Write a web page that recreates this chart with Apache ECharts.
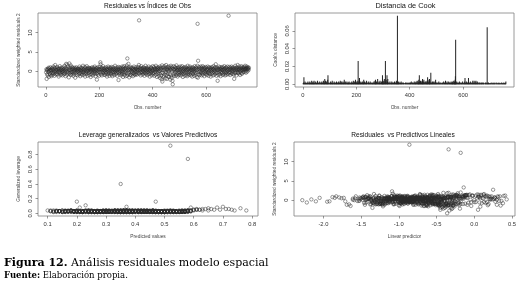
<!DOCTYPE html>
<html>
<head>
<meta charset="utf-8">
<script src="https://cdn.jsdelivr.net/npm/echarts@6/dist/echarts.min.js"></script>
<style>
  html, body { margin: 0; padding: 0; background: #fff; }
  #chart { width: 519px; height: 289px; }
</style>
</head>
<body>
<div id="chart"></div>
<script>
// standardized weighted residuals, one per observation (obs 1..760)
const residuals = [
  -0.3,0.5,-2.0,0.2,-0.8,0.4,-1.1,0.6,-0.2,0.9,-1.5,0.1,0.7,-0.6,0.3,-0.9,1.0,-0.1,0.4,-1.3,
  0.2,-0.5,0.8,-1.0,0.3,0.6,-0.4,1.2,-0.7,0.0,0.5,-1.2,0.9,-0.3,1.6,0.2,-0.8,0.4,-0.1,0.7,
  -0.6,1.1,0.3,-0.9,0.5,-0.2,0.8,-1.4,0.1,0.6,-0.5,1.3,-0.3,0.2,-1.0,0.7,0.4,-0.7,0.9,-0.2,
  0.3,-1.1,0.6,0.1,-0.4,1.0,-0.8,0.5,-0.1,1.4,-0.6,0.2,0.8,-1.3,0.4,1.9,-0.2,0.6,-0.9,1.7,
  0.1,-0.5,1.2,-0.3,0.7,-1.6,0.4,2.0,-0.7,0.3,0.9,-0.4,1.5,-1.0,0.2,0.6,-0.2,1.1,-0.8,0.5,
  -0.3,0.8,-1.2,0.4,0.0,-0.6,0.9,-0.2,0.5,-1.7,0.3,0.7,-0.4,1.0,-0.9,0.2,0.6,-0.1,-1.1,0.4,
  0.7,-0.3,0.1,-0.8,0.5,1.2,-0.5,0.3,-1.3,0.8,-0.1,0.4,-0.7,0.9,0.2,-1.0,0.6,-0.4,1.4,-0.2,
  0.3,-0.9,0.6,0.0,-0.5,1.1,-1.4,0.4,0.8,-0.3,0.2,-0.7,1.3,-0.1,0.5,-1.2,0.7,0.1,-0.6,0.9,
  -0.4,0.6,-1.0,0.3,0.8,-0.2,0.5,-1.5,0.1,0.7,-0.8,0.4,1.0,-0.3,0.2,-1.1,0.6,-0.5,0.9,0.0,
  0.4,-0.7,1.2,-0.2,0.5,-1.3,0.3,0.8,-0.6,0.1,-2.2,0.7,-0.4,1.0,-0.9,0.2,0.6,-0.1,-1.2,0.5,
  1.1,-0.3,0.4,2.3,1.8,-0.8,0.6,-0.2,0.9,-1.1,0.3,0.7,-0.5,1.3,-0.1,0.5,-0.9,0.2,0.8,-0.4,
  0.1,-1.0,0.6,0.3,-0.6,1.0,-0.3,0.5,-1.4,0.7,0.2,-0.8,1.2,-0.2,0.4,-0.5,0.9,-1.2,0.0,0.6,
  -0.7,0.3,0.8,-0.4,1.1,-0.9,0.5,0.1,-1.3,0.6,-0.2,1.0,-0.6,0.4,0.2,-1.0,0.7,-0.3,1.4,-0.1,
  0.5,-0.8,0.3,0.9,-0.5,0.1,-1.2,0.6,-0.2,0.4,1.1,-2.3,0.7,-0.4,0.2,-0.9,1.0,-0.1,0.5,-0.6,
  0.8,-1.1,0.4,0.0,-0.7,1.2,-0.3,0.6,-1.5,0.9,0.2,-0.4,1.3,-0.9,0.5,-0.2,0.7,-1.3,0.1,1.0,
  -0.5,0.6,1.5,-1.2,3.3,0.3,-0.8,0.9,1.9,-0.4,0.5,-1.6,0.2,0.7,-0.9,1.1,-0.3,0.4,-1.1,0.8,
  0.0,-0.6,0.9,-0.2,0.5,-1.3,0.7,0.3,-0.5,1.2,-0.8,0.4,0.1,-1.0,0.6,-0.3,1.0,-0.7,0.5,0.2,
  -0.9,0.7,-0.1,0.4,1.1,-0.5,0.3,1.6,13.2,-0.7,0.5,0.9,-0.3,0.2,-1.1,0.6,1.3,-0.4,0.8,-0.2,
  0.4,-0.9,0.7,0.1,-0.6,1.0,-0.2,0.5,-1.2,0.8,0.3,-0.5,1.4,-0.1,0.6,-0.8,0.2,0.9,-0.4,0.5,
  -1.0,0.3,0.7,-0.3,1.2,-0.7,0.4,0.0,-1.4,0.6,0.2,-0.6,1.0,-0.2,0.8,-1.1,0.5,0.1,-0.5,1.3,
  0.2,-0.8,0.6,-0.4,1.1,-1.2,0.3,0.7,-0.1,0.5,-0.9,1.4,-0.3,0.4,0.9,-1.5,0.2,0.6,-0.6,1.0,
  -0.2,0.5,-1.3,0.8,0.1,-0.7,1.2,-1.8,0.4,0.6,-1.1,0.9,-0.5,-2.1,1.5,-2.7,0.3,-0.4,1.0,-1.6,
  0.7,-1.2,0.2,1.3,-0.8,0.5,-1.9,0.9,-0.3,1.6,-1.0,0.4,-2.0,0.6,1.1,-0.6,0.2,-1.4,0.8,-0.1,
  1.2,-1.5,0.4,-0.8,0.9,-2.2,0.3,1.4,-1.1,0.6,-1.7,0.1,1.0,-2.5,-3.4,0.5,-0.9,1.3,-1.3,0.2,
  0.6,-0.7,1.1,-0.3,0.4,-1.2,0.8,-0.1,1.5,-0.9,0.3,0.7,-1.4,0.2,1.0,-0.5,0.5,-1.0,0.9,-0.2,
  0.3,-0.8,1.2,-0.4,0.6,-1.1,0.1,0.9,-0.6,1.3,-0.2,0.4,-1.5,0.7,0.0,-0.7,1.0,-0.3,0.5,-1.2,
  0.8,-0.4,0.2,1.1,-0.9,0.5,-0.1,0.7,-1.3,0.3,1.4,-0.6,0.4,-1.0,0.9,-0.2,0.6,-0.8,1.2,0.1,
  -0.5,0.7,-1.1,0.3,0.9,-0.3,0.5,-1.4,0.2,1.0,-0.7,0.4,0.8,-0.2,-1.2,0.6,1.3,-0.5,0.1,-0.9,
  0.5,1.0,-0.4,0.7,-1.5,0.3,1.4,12.3,-1.7,2.7,0.6,-0.8,1.1,-0.2,0.4,-1.0,0.8,0.0,-0.6,1.2,
  -0.3,0.6,-1.1,0.9,0.2,-0.5,1.3,-0.9,0.4,0.7,-0.1,1.0,-1.3,0.5,-0.4,0.8,0.1,-0.7,1.1,-0.2,
  0.4,-1.0,0.7,0.2,-0.6,1.2,-0.3,0.5,-1.2,0.9,0.0,-0.5,1.0,-0.8,0.3,0.6,-1.4,0.8,-0.1,0.4,
  -0.7,1.1,0.2,-0.4,0.7,-1.1,0.5,1.3,-0.2,0.3,-0.9,0.8,0.1,-0.6,1.0,1.8,-0.3,0.6,-1.2,0.4,
  0.9,-0.5,-2.5,0.2,0.7,-1.0,0.4,1.2,-0.3,0.6,-0.8,0.1,1.0,-1.3,0.5,-0.2,0.8,-0.6,0.3,1.1,
  -0.4,0.6,-1.0,0.2,0.9,-0.7,0.4,1.3,-0.2,0.5,-1.1,0.8,0.0,-0.5,1.0,-0.9,0.3,0.7,-0.3,1.2,
  0.1,-0.8,0.6,14.4,0.4,-0.5,1.1,-0.2,0.7,-1.0,0.3,0.9,-0.4,0.5,1.2,-0.7,0.2,0.8,-0.1,0.6,
  -0.6,1.0,0.3,-0.9,-2.0,0.5,0.8,-0.3,1.4,-0.5,0.2,0.7,-1.1,0.4,1.0,-0.2,0.6,1.6,-0.4,0.3,
  0.8,-0.6,0.5,1.2,-0.2,0.4,-1.0,0.7,0.1,0.9,-0.5,1.3,0.3,-0.7,0.6,1.0,0.2,-0.3,0.8,0.5,
  0.3,1.1,-0.2,0.7,0.5,1.4,0.0,0.6,-0.4,0.9,0.4,1.2,0.7,-0.1,0.8,0.5,1.0,0.6,0.3,0.9
];

// linear predictor, same observations
const linearPredictor = [
  -1.12,-0.58,-1.35,-0.87,-0.42,-1.61,-0.95,-0.71,-1.24,-0.33,-0.66,-1.48,-0.89,-0.27,-1.05,-0.52,-1.83,-0.78,-1.17,-0.46,
  -0.91,-1.29,-0.62,-0.15,-1.41,-0.84,-0.49,-1.02,-0.73,-2.28,-0.38,-1.19,-0.96,-0.57,-1.33,-0.68,-0.21,-1.09,-0.81,-1.52,
  -0.44,-1.26,-0.75,-1.07,-0.31,-0.92,-1.44,-0.63,-0.05,-1.15,-0.86,-0.53,-1.71,-0.99,-0.37,-1.22,-0.69,-0.48,-1.38,-0.82,
  -1.01,-0.55,-1.27,-0.74,-1.95,-0.41,-0.88,-1.13,-0.61,-0.23,-1.36,-0.79,-0.97,-0.51,-1.18,-0.34,-1.55,-0.67,-0.12,-1.08,
  -0.85,-1.31,-0.59,-0.94,-0.39,-1.21,-0.72,-0.18,-1.46,-0.83,-1.03,-0.47,-0.28,-1.25,-0.64,-2.05,-0.93,-0.56,-1.14,-0.76,
  -0.43,-1.06,-0.81,-1.39,-0.65,-0.98,-0.35,-1.23,-0.71,0.08,-1.11,-0.54,-0.87,-1.47,-0.26,-0.77,-1.02,-0.62,-1.66,-0.45,
  -0.94,-0.68,-1.28,-0.52,-1.76,-0.11,-0.84,-1.16,-0.58,-1.01,-0.36,-1.34,-0.79,-0.48,-1.07,-0.22,-0.91,-1.42,-0.66,-0.29,
  -1.19,-0.74,-0.55,-1.32,-0.89,-0.02,-0.63,-1.09,-1.88,-0.82,-0.44,-1.24,-0.69,-0.97,-1.51,-0.38,-0.77,-1.13,-0.57,-0.16,
  -1.04,-0.61,-1.37,-0.86,-0.49,-1.20,-0.73,-0.99,-0.32,-1.45,-0.67,-0.88,-1.10,-0.53,-2.16,-0.80,-0.41,-1.26,-0.95,-0.59,
  -0.70,-1.15,-0.47,-0.90,-1.58,-0.34,-0.83,-1.03,-0.64,-1.30,-0.19,-0.76,-1.12,-0.55,-0.98,-1.43,-0.40,-0.85,-1.69,-0.62,
  -0.27,-0.92,-1.18,-1.09,-0.36,-0.75,-1.40,-0.58,-0.96,-0.45,-1.22,-0.81,0.17,-1.06,-0.66,-0.50,-1.33,-0.87,-0.24,-1.14,
  -0.78,-0.53,-1.27,-0.90,-0.37,-1.05,-1.92,-0.69,-0.46,-1.17,-0.83,-0.60,-0.13,-1.36,-0.74,-0.98,-0.42,-1.22,-0.88,-0.56,
  -1.44,-0.67,-0.31,-1.00,-0.79,-1.25,-0.54,-0.93,-0.20,-1.13,-0.72,-1.57,-0.48,-0.86,-1.08,-0.39,-0.77,-2.10,-0.62,-0.99,
  -0.57,-1.21,-0.84,-0.43,-1.32,-0.70,-0.09,-1.04,-0.65,-1.50,-0.89,-0.30,-1.15,-0.76,-0.51,-1.28,-0.94,-0.60,-1.41,-0.82,
  -0.68,-0.25,-1.11,-0.87,-1.35,-0.50,-0.97,-0.73,-1.64,-0.35,-1.06,-0.81,-0.55,-1.23,-0.15,-0.92,-1.47,-0.64,-0.44,-1.01,
  -0.86,-1.30,-0.57,-0.78,-0.14,-1.16,-0.69,-1.44,-0.41,-0.95,-1.20,-0.61,-0.87,-1.79,-0.33,-1.09,-0.75,-0.52,-1.38,-0.90,
  -0.46,-1.12,-0.80,-1.53,-0.63,-0.28,-1.02,-0.71,-0.94,-1.26,-0.49,-0.84,-1.61,-0.37,-1.07,-0.58,-0.21,-1.34,-0.76,-0.97,
  -1.18,-0.66,-0.43,-1.40,-0.88,-0.55,-1.03,-0.72,-0.34,-1.24,-0.80,-0.60,-1.13,-0.92,-0.47,-1.73,-0.26,-0.85,-1.05,-0.64,
  -0.93,-1.29,-0.52,-0.79,-2.22,-1.10,-0.68,-0.38,-1.45,-0.82,-0.57,-1.01,-0.30,-1.19,-0.74,-0.97,-1.37,-0.48,-0.87,-0.62,
  -1.06,-0.41,-1.23,-0.77,-0.03,-0.99,-0.58,-1.33,-0.70,-1.85,-0.45,-0.90,-1.15,-0.64,-0.35,-1.27,-0.81,-0.53,-1.08,-0.24,
  -0.73,-1.17,-0.96,-0.44,-1.31,-0.62,-0.85,-1.48,-0.39,-0.78,-1.04,-0.55,-0.18,-1.22,-0.92,-0.67,-0.32,-1.39,-0.83,-0.50,
  -1.01,-0.61,-0.27,-1.14,-0.86,-0.71,-0.11,-0.42,-1.28,-0.95,-0.48,-0.21,-0.75,-0.29,0.04,-0.33,-1.12,-0.66,-0.38,-0.26,
  -0.89,-0.44,-1.20,-0.07,-0.57,-0.97,-0.31,-0.68,-1.35,0.13,-0.50,-1.06,-0.39,-0.79,-0.22,-0.61,-1.42,-0.35,-0.88,-1.15,
  -0.16,-0.47,-0.93,-0.58,-0.30,-0.41,-1.24,0.09,-0.64,-0.83,-0.37,-1.10,-0.20,-0.45,-0.36,-0.90,-0.55,-0.12,-0.32,-1.30,
  -0.74,-0.99,-0.25,-1.18,-0.60,-0.40,-0.87,-1.52,-0.06,-0.69,-1.04,-0.51,-0.28,-1.36,-0.80,-0.46,-0.95,-0.63,-0.19,-1.23,
  -0.56,-0.34,-0.02,-1.09,-0.78,-0.48,-1.44,-0.65,-0.91,-0.23,-1.17,-0.70,-0.38,-0.99,-1.59,-0.53,-0.15,-0.86,-0.43,-0.31,
  -1.13,-0.71,0.21,-0.92,-0.47,-1.26,-0.60,-0.84,-0.35,-1.01,-0.10,-0.76,-1.34,-0.52,-0.29,-0.97,-0.66,-1.20,0.02,-0.44,
  -0.82,-0.27,-1.07,-0.58,-0.14,-0.89,-1.46,-0.40,-0.73,0.31,-0.55,-1.15,-0.33,-0.80,-0.48,-1.02,-0.09,-0.67,-1.29,-0.37,
  -0.61,-0.24,-0.95,-0.50,-0.04,-1.11,-0.72,-0.18,-0.43,0.25,-0.85,-0.30,-1.19,-0.62,0.12,-0.93,-0.47,-1.37,-0.21,-0.78,
  -1.05,-0.36,-0.69,0.06,-0.54,-1.24,-0.13,-0.88,-0.41,-1.48,-0.26,-0.75,0.18,-0.97,-0.58,-0.32,-1.12,-0.08,-0.65,-0.90,
  -0.45,-1.30,0.27,-0.70,-0.20,-0.99,-0.53,-1.16,-0.34,-0.83,0.00,-0.60,-1.40,-0.28,-0.77,-0.49,0.35,-1.04,-0.66,-0.17,
  -0.94,0.14,-0.56,-1.21,-0.39,-0.74,0.22,-0.11,-0.87,-1.53,-0.31,-0.63,-1.08,0.07,-0.46,-0.22,-0.81,-1.27,0.30,-0.52,
  -0.69,-0.04,0.05,-0.93,-0.36,0.19,-1.10,-0.57,-0.25,-1.33,0.10,-0.79,-0.44,-1.00,0.28,-0.64,-0.15,-1.18,-0.50,0.16,
  -0.84,-0.30,-1.22,0.24,-0.60,-0.95,-0.19,-0.71,0.33,-1.06,-0.42,-0.12,-0.88,0.02,-1.38,-0.55,0.20,-0.76,-0.26,0.09,
  -1.14,0.38,-0.47,-0.86,-0.67,0.13,-0.98,-0.33,0.27,-1.25,-0.58,0.05,-0.80,-0.21,0.41,-0.70,-1.03,0.16,-0.40,-0.09,
  -0.62,0.23,-1.15,-0.37,-0.45,-0.84,0.32,-0.52,0.06,-0.96,0.43,-0.27,-1.31,-0.14,0.19,-0.73,0.11,-0.48,-1.07,0.26,
  -0.35,-0.91,0.08,-0.59,0.36,-1.20,-0.18,-0.65,0.30,-0.82,0.00,-1.42,-0.29,0.15,-0.56,-1.00,0.22,-0.39,-0.75,0.04,
  -0.24,0.39,-0.68,-0.10,-1.13,0.12,-0.46,-0.85,0.28,-0.31,-0.97,0.17,-0.57,-1.27,0.07,-0.20,0.34,-0.63,-0.92,0.21
];

// Cook's distance per observation, in thousandths
const cookThousandths = [
  1,0,2,8,1,0,1,3,0,1,2,0,1,1,0,2,1,0,3,1,
  0,1,2,0,1,3,1,0,2,1,0,1,4,1,0,2,1,3,0,1,
  2,4,1,0,1,2,0,3,1,0,1,2,1,0,4,1,0,2,1,0,
  1,0,3,1,2,0,1,0,2,1,3,0,1,2,0,1,4,1,0,2,
  1,6,2,0,4,1,0,3,1,2,0,1,5,10,1,0,2,1,0,1,
  0,2,1,3,0,1,2,0,1,4,1,0,2,1,0,1,3,0,2,1,
  1,0,2,1,0,3,1,2,0,1,2,0,1,3,1,0,2,1,0,4,
  2,0,1,3,1,0,2,1,0,3,1,2,0,1,5,0,2,1,3,0,
  1,2,0,1,3,0,1,2,1,0,2,1,3,1,0,2,1,0,1,2,
  0,1,3,1,0,2,1,0,4,1,2,0,1,3,0,2,5,1,0,2,
  1,3,0,2,1,4,26,1,2,0,3,7,1,0,2,1,3,0,1,2,
  0,2,1,3,0,1,2,5,1,0,3,1,0,2,1,0,2,4,1,0,
  2,0,1,0,3,1,0,2,1,0,1,3,0,1,2,0,1,0,2,1,
  1,0,2,1,0,3,1,0,2,4,1,5,2,0,1,3,2,0,1,6,
  0,2,1,0,3,1,2,0,4,1,0,2,1,3,0,1,2,10,1,3,
  2,1,4,0,6,1,2,0,26,3,1,5,0,2,10,1,3,6,0,2,
  1,0,2,1,0,3,1,0,1,2,0,1,3,1,0,2,1,0,2,1,
  0,1,3,0,1,2,0,1,2,4,1,0,3,77,2,1,0,2,3,1,
  2,0,1,0,2,1,0,3,1,0,1,2,0,1,0,2,1,0,1,0,
  1,0,0,2,1,0,1,0,2,1,0,1,0,2,1,0,1,0,1,2,
  0,1,2,0,1,3,0,1,0,2,1,0,2,1,0,1,3,0,1,2,
  1,2,0,3,1,0,2,4,1,0,3,1,2,5,1,10,2,0,3,4,
  1,3,0,2,1,4,2,6,1,0,3,1,5,2,0,2,1,3,0,2,
  3,1,2,0,4,2,8,1,3,0,2,5,1,6,4,2,1,0,13,2,
  1,0,2,1,3,0,1,2,0,3,1,2,0,1,3,0,5,1,2,0,
  1,2,0,1,0,2,1,0,3,1,0,1,2,0,1,0,2,1,0,1,
  0,1,2,0,1,0,3,1,0,2,1,0,1,4,0,1,2,0,1,3,
  1,0,1,2,0,3,1,0,2,1,0,2,1,0,3,1,2,0,1,2,
  3,1,2,0,4,1,3,2,1,5,9,50,2,1,0,3,1,2,0,1,
  0,2,1,0,1,3,0,1,2,0,1,0,2,1,0,1,0,3,1,0,
  1,0,2,1,0,3,7,1,0,2,1,0,3,1,0,2,1,0,2,7,
  1,0,2,1,0,1,3,0,2,1,0,1,2,0,1,4,0,2,1,0,
  4,1,0,2,3,1,0,4,1,0,2,1,3,0,1,2,0,1,0,2,
  1,0,2,1,0,1,0,2,1,0,1,2,0,1,0,1,2,0,1,0,
  0,1,0,2,1,0,1,0,2,64,1,0,1,0,2,1,0,1,0,1,
  1,0,1,0,2,0,1,0,1,0,1,2,0,1,0,1,0,1,2,0,
  0,1,0,1,0,2,0,1,0,1,0,1,0,2,1,0,1,0,1,0,
  1,0,2,0,1,0,1,0,1,2,0,1,0,1,0,1,2,1,0,3
];

// predicted values (hundredths) and generalized leverage (hundredths)
const predictedPct = [
  34,21,47,15,52,28,39,44,18,56,31,25,49,37,12,42,27,53,35,19,
  46,23,38,55,30,16,41,48,26,33,57,20,44,36,14,50,29,40,22,54,
  32,45,17,59,27,43,38,24,51,13,36,47,21,30,56,40,18,34,49,25,
  42,29,53,37,11,46,22,35,58,31,19,44,27,50,39,16,48,33,24,55,
  28,41,20,52,35,45,14,38,30,57,23,49,33,19,43,26,54,36,47,31,
  60,24,39,17,48,32,55,27,42,21,36,51,15,45,29,37,53,22,40,34,
  18,47,31,56,25,40,35,12,50,43,28,37,58,20,46,33,23,52,39,15,
  38,26,54,33,44,19,48,30,61,24,41,16,35,57,27,50,21,45,32,43,
  51,14,36,46,22,53,29,40,17,34,59,25,42,31,49,20,37,55,28,11,
  23,44,30,49,37,18,58,26,43,35,21,52,39,13,47,32,24,56,41,29,
  45,33,19,62,28,41,50,36,15,54,22,38,47,27,34,57,18,43,30,48,
  27,55,40,16,49,31,23,46,38,20,60,35,44,12,52,26,39,29,51,36,
  13,42,34,57,21,47,37,30,53,25,41,17,48,33,56,22,45,28,38,50,
  35,19,52,29,44,38,26,59,32,48,14,43,36,24,55,40,20,47,31,39,
  58,31,24,45,36,16,51,42,28,37,54,21,46,34,19,57,30,41,25,49,
  22,48,38,13,53,35,27,44,65,31,40,18,50,29,45,36,23,56,33,42,
  39,25,47,34,20,52,41,30,57,16,44,37,26,49,11,35,54,28,43,32,
  50,36,21,55,29,45,33,40,19,57,26,42,35,48,23,51,38,15,46,31,
  27,43,59,24,38,31,49,17,42,34,53,22,45,36,28,56,14,40,33,47,
  32,52,20,44,37,27,54,39,25,48,16,41,35,58,30,46,21,38,50,26,
  45,18,40,30,55,35,23,49,42,13,37,51,28,44,33,56,24,39,47,20,
  66,37,29,53,24,43,35,47,15,40,31,57,22,48,38,27,52,34,19,45,
  36,26,49,41,17,55,32,38,46,21,43,30,58,25,37,50,16,44,33,53,
  24,47,34,12,51,39,28,45,33,56,20,42,36,48,27,35,54,18,41,30,
  52,35,22,46,38,29,57,14,43,31,49,25,40,37,55,21,47,33,26,44,
  30,48,41,19,54,36,25,45,32,58,23,39,50,28,43,17,53,35,46,27,
  70,33,45,22,39,52,27,36,47,15,42,31,56,24,37,49,20,44,34,57,
  40,26,53,35,18,47,38,29,55,21,41,34,48,13,45,30,58,25,39,51,
  28,44,37,59,23,50,33,42,16,46,35,54,26,40,31,57,22,48,36,43,
  63,19,41,32,49,27,55,38,24,45,34,20,52,43,29,47,36,14,56,31,
  37,50,25,44,58,30,39,21,53,35,46,27,42,17,48,33,60,24,40,55,
  68,29,45,36,22,51,40,33,57,26,43,19,49,38,31,54,23,46,35,41,
  34,61,27,48,39,16,53,42,30,45,22,56,37,28,50,35,18,44,64,32,
  72,41,26,52,36,45,31,57,23,47,38,14,55,33,43,27,49,39,20,58,
  30,46,67,35,53,24,42,38,51,28,45,19,56,34,40,25,48,36,62,27,
  74,33,50,21,44,39,57,29,46,35,17,52,41,26,48,37,55,23,69,31,
  43,76,28,54,36,47,20,59,38,45,31,51,25,42,71,34,49,22,63,40,
  37,53,65,29,46,78,33,56,24,44,39,61,27,50,35,73,42,30,58,10
];
const leverageHundredths = [
  3,2,3,4,2,3,3,2,4,3,2,3,3,2,4,3,2,3,3,2,
  2,3,4,3,2,3,2,3,3,4,2,3,2,3,3,2,4,3,2,3,
  3,2,3,4,3,2,3,3,2,4,3,2,3,3,2,3,4,2,3,3,
  2,3,3,2,4,3,2,3,3,2,3,4,3,2,3,3,2,3,4,2,
  3,3,2,4,2,3,3,2,3,3,4,2,3,3,2,3,2,4,3,3,
  5,2,3,3,2,4,3,3,2,3,3,2,4,3,2,3,3,2,3,4,
  3,2,4,3,2,3,3,2,3,3,2,4,74,3,2,3,3,2,3,2,
  2,3,3,2,4,3,2,3,5,3,2,3,3,2,3,4,2,3,3,2,
  3,3,2,4,3,2,3,3,2,3,4,2,3,3,2,3,4,2,3,3,
  3,2,3,3,2,4,3,2,3,3,2,3,4,2,3,3,2,3,3,2,
  2,3,3,5,3,2,3,4,2,3,3,2,3,3,2,4,3,2,3,3,
  3,2,3,4,2,3,3,2,3,4,4,3,2,3,92,2,3,3,2,3,
  3,3,2,3,8,3,2,4,3,2,3,3,2,3,4,2,3,3,2,3,
  2,3,3,2,4,3,3,3,2,3,3,2,4,3,2,3,3,2,3,3,
  3,2,4,3,2,3,3,2,3,4,2,3,3,2,3,3,2,3,4,2,
  3,3,2,3,3,2,4,3,7,2,3,3,2,4,3,2,11,3,3,2,
  2,3,3,4,2,3,3,2,3,3,2,9,3,2,3,4,2,3,3,2,
  3,2,3,3,2,4,3,3,2,3,3,2,40,3,2,3,4,2,3,3,
  3,4,3,2,3,3,2,3,4,2,3,3,2,3,3,2,3,4,2,16,
  2,3,16,3,4,2,3,3,2,3,3,4,2,3,3,2,3,3,2,3,
  3,2,3,4,2,3,3,2,3,3,4,2,3,3,2,3,3,2,4,3,
  6,3,2,3,3,2,4,3,2,3,3,2,3,3,4,2,3,3,2,3,
  3,2,3,3,4,2,3,3,2,3,4,3,2,3,3,2,3,3,4,2,
  2,3,3,2,3,4,2,3,3,2,3,3,4,2,3,3,2,3,3,4,
  3,3,2,4,3,2,3,3,2,3,3,4,2,3,3,2,3,4,2,3,
  2,3,4,3,2,3,3,2,3,3,4,2,3,3,2,3,3,2,4,3,
  9,2,3,3,2,4,3,3,2,3,3,2,3,4,2,3,3,2,3,3,
  3,3,2,3,4,2,3,3,2,3,3,4,2,3,3,2,4,3,2,3,
  2,3,4,8,3,2,3,3,2,4,3,3,2,3,3,4,2,3,3,2,
  4,3,2,3,3,2,4,3,3,2,3,3,2,4,3,2,3,3,4,2,
  3,2,3,3,4,2,3,3,2,3,3,2,4,3,2,3,5,3,3,2,
  8,3,2,3,3,4,2,3,3,2,3,3,2,3,4,3,2,3,3,2,
  3,6,2,3,3,2,4,3,3,2,3,2,3,3,2,4,3,3,6,2,
  6,3,3,2,4,3,2,3,3,2,3,3,2,4,3,2,3,3,2,4,
  3,2,5,3,3,2,4,3,3,2,3,3,2,3,4,3,3,2,5,3,
  4,3,2,3,3,4,2,3,3,2,3,3,4,2,3,3,2,3,5,3,
  3,7,2,3,3,2,4,3,3,3,2,3,3,2,6,3,3,2,6,3,
  3,2,4,3,2,4,3,2,3,3,2,5,3,3,2,5,3,2,4,4
];

// tick values
const obsTicks = [0, 200, 400, 600];
const residTicks = [0, 5, 10];
const cookTicks = [0, 0.02, 0.04, 0.06];
const predTicks = [0.1, 0.2, 0.3, 0.4, 0.5, 0.6, 0.7, 0.8];
const levTicks = [0, 0.2, 0.4, 0.6, 0.8];
const linTicks = [-2.0, -1.5, -1.0, -0.5, 0.0, 0.5];

const panelTitles = [
  'Residuales vs Índices de Obs',
  'Distancia de Cook',
  'Leverage generalizados  vs Valores Predictivos',
  'Residuales  vs Predictivos Lineales'
];

const FONT = 'Liberation Sans';
const SERIF = 'DejaVu Serif';

let chart = echarts.init(document.getElementById('chart'), null, { renderer: 'canvas' });

let n = Math.min(residuals.length, linearPredictor.length);
let residPoints = [];
let linPoints = [];
for (let i = 0; i < n; i++) {
  residPoints.push([i + 1, residuals[i]]);
  linPoints.push([linearPredictor[i], residuals[i]]);
}
let cookBars = cookThousandths.map((c, i) => [i + 1, c / 1000]);
let levPoints = [];
for (let i = 0; i < Math.min(predictedPct.length, leverageHundredths.length); i++) {
  levPoints.push([predictedPct[i] / 100, leverageHundredths[i] / 100]);
}

let gridBox = { show: true, borderColor: '#808080', borderWidth: 0.8, backgroundColor: 'transparent' };

let makeAxis = function (gridIndex, min, max, ticks, name, fmt, vertical) {
  return {
    type: 'value',
    gridIndex: gridIndex,
    min: min,
    max: max,
    name: name,
    nameLocation: 'middle',
    nameGap: vertical ? 17 : 18,
    nameTextStyle: { fontSize: 4.8, color: '#444', fontFamily: FONT },
    axisLine: { show: false, onZero: false },
    axisTick: { show: true, length: 2.5, lineStyle: { color: '#555', width: 0.6 }, customValues: ticks },
    axisLabel: {
      customValues: ticks,
      fontSize: 5.8,
      color: '#333',
      fontFamily: FONT,
      margin: vertical ? 4.5 : 5,
      rotate: vertical ? 90 : 0,
      formatter: fmt
    },
    splitLine: { show: false }
  };
};

let circleStyle = { color: 'rgba(0,0,0,0)', borderColor: '#2a2a2a', borderWidth: 0.6 };

let titleStyle = { fontSize: 6.6, fontWeight: 'normal', color: '#111', fontFamily: FONT };

let option = {
  animation: false,
  backgroundColor: '#fff',
  title: [
    { text: panelTitles[0], left: 147.5, top: 2.5, textAlign: 'center', padding: 0, textStyle: titleStyle },
    { text: panelTitles[1], left: 405.5, top: 2, textAlign: 'center', padding: 0, textStyle: Object.assign({}, titleStyle, { fontSize: 7.4 }) },
    { text: panelTitles[2], left: 148, top: 131.5, textAlign: 'center', padding: 0, textStyle: titleStyle },
    { text: panelTitles[3], left: 403, top: 131.5, textAlign: 'center', padding: 0, textStyle: titleStyle },
    {
      text: '{b|Figura 12.} Análisis residuales modelo espacial',
      left: 4, top: 257.5, padding: 0,
      textStyle: {
        fontSize: 11, fontFamily: SERIF, fontWeight: 'normal', color: '#000',
        rich: { b: { fontSize: 11, fontFamily: SERIF, fontWeight: 'bold', color: '#000' } }
      }
    },
    {
      text: '{b|Fuente:} Elaboración propia.',
      left: 4, top: 271, padding: 0,
      textStyle: {
        fontSize: 8.5, fontFamily: SERIF, fontWeight: 'normal', color: '#000',
        rich: { b: { fontSize: 8.5, fontFamily: SERIF, fontWeight: 'bold', color: '#000' } }
      }
    }
  ],
  grid: [
    Object.assign({ left: 38, top: 13, width: 219, height: 74 }, gridBox),
    Object.assign({ left: 295, top: 13, width: 219, height: 74 }, gridBox),
    Object.assign({ left: 38, top: 142, width: 220, height: 74 }, gridBox),
    Object.assign({ left: 294, top: 142, width: 221, height: 74 }, gridBox)
  ],
  xAxis: [
    makeAxis(0, -29.4, 790.4, obsTicks, 'Obs. number', v => String(v), false),
    makeAxis(1, -29.4, 790.4, obsTicks, 'Obs. number', v => String(v), false),
    makeAxis(2, 0.067, 0.82, predTicks, 'Predicted values', v => v.toFixed(1), false),
    makeAxis(3, -2.39, 0.54, linTicks, 'Linear predictor', v => v.toFixed(1), false)
  ],
  yAxis: [
    makeAxis(0, -4.11, 15.11, residTicks, 'Standardized weighted residuals 2', v => String(v), true),
    makeAxis(1, -0.00308, 0.08008, cookTicks, "Cook's distance", v => v.toFixed(2), true),
    makeAxis(2, -0.035, 0.97, levTicks, 'Generalized leverage', v => v.toFixed(1), true),
    makeAxis(3, -4.11, 15.11, residTicks, 'Standardized weighted residuals 2', v => String(v), true)
  ],
  series: [
    {
      type: 'scatter', xAxisIndex: 0, yAxisIndex: 0, data: residPoints,
      symbol: 'circle', symbolSize: 3.4, itemStyle: circleStyle, silent: true
    },
    {
      type: 'bar', xAxisIndex: 1, yAxisIndex: 1, data: cookBars,
      barWidth: 0.5, itemStyle: { color: '#222' }, silent: true
    },
    {
      type: 'scatter', xAxisIndex: 2, yAxisIndex: 2, data: levPoints,
      symbol: 'circle', symbolSize: 3.4, itemStyle: circleStyle, silent: true
    },
    {
      type: 'scatter', xAxisIndex: 3, yAxisIndex: 3, data: linPoints,
      symbol: 'circle', symbolSize: 3.4, itemStyle: circleStyle, silent: true
    }
  ]
};

chart.setOption(option);
</script>
</body>
</html>
